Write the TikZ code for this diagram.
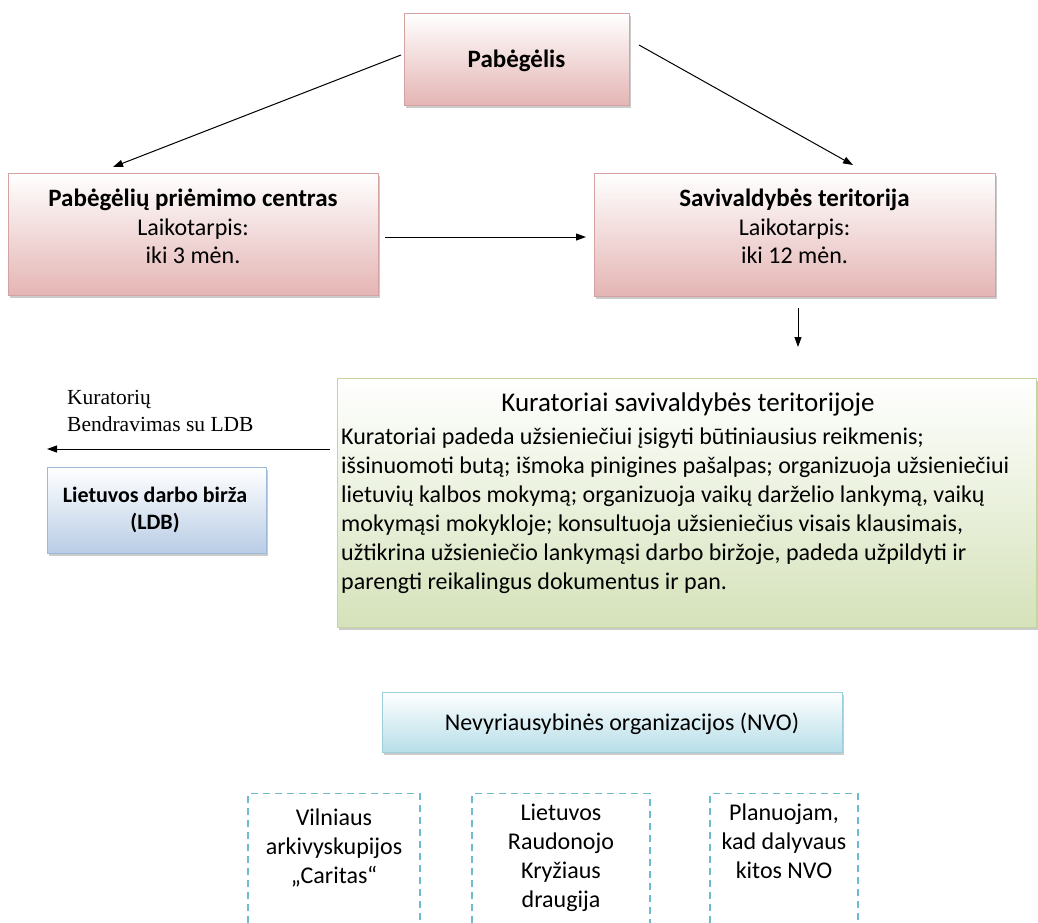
\documentclass[tikz,border=0pt]{standalone}
\usepackage{fontspec}
\setmainfont{Carlito}
\newfontfamily\timesfont{Liberation Serif}
\usetikzlibrary{arrows.meta,shadows}
\definecolor{pinkD}{HTML}{D3A2A1}
\definecolor{pinkB}{HTML}{E4B5B4}
\definecolor{greenD}{HTML}{C4D69E}
\definecolor{greenB}{HTML}{D5E2BA}
\definecolor{ldbD}{HTML}{9DB8D8}
\definecolor{ldbB}{HTML}{B9CDE5}
\definecolor{nvoD}{HTML}{9CCFDD}
\definecolor{nvoB}{HTML}{B7DEE8}
\definecolor{dashC}{HTML}{6DBBCF}
\tikzset{
  shbox/.style={line width=0.9pt, inner sep=0pt, align=center,
    drop shadow={shadow xshift=2pt,shadow yshift=-2.5pt,fill=black!40}},
  pinkbox/.style={shbox, draw=pinkD, top color=white, bottom color=pinkB},
  greenbox/.style={shbox, draw=greenD, top color=white, bottom color=greenB},
  ldbbox/.style={shbox, draw=ldbD, top color=white, bottom color=ldbB},
  nvobox/.style={shbox, draw=nvoD, top color=white, bottom color=nvoB},
  dbox/.style={draw=dashC, line width=1.3pt, dash pattern=on 7pt off 5pt, inner sep=0pt},
  arr/.style={line width=1pt, -{Triangle[length=10pt,width=7pt]}},
  txt/.style={inner sep=0pt, anchor=base},
}
\newcommand\ctab[1]{\begin{tabular}[t]{@{}c@{}}#1\end{tabular}}
\newcommand\ltab[1]{\begin{tabular}[t]{@{}l@{}}#1\end{tabular}}
\begin{document}
\begin{tikzpicture}[x=1pt,y=-1pt]
\useasboundingbox (0,0) rectangle (1038,922);
\clip (0,0) rectangle (1038,922);
\fill[white] (0,0) rectangle (1038,922);

% pink boxes
\node[pinkbox, minimum width=225pt, minimum height=92pt] (pab) at (516.5,59) {};
\node[txt, font=\fontsize{25}{30}\selectfont\bfseries] (pabT) at (516.5,67) {Pabėgėlis};
\node[pinkbox, minimum width=370pt, minimum height=122pt] (prc) at (193,234) {};
\node[txt, font=\fontsize{24}{28.5}\selectfont] (prcT) at (193,206.5)
  {\ctab{{\fontsize{25}{28.5}\selectfont\bfseries Pabėgėlių priėmimo centras}\\Laikotarpis:\\iki 3 mėn.}};
\node[pinkbox, minimum width=401pt, minimum height=123pt] (sav) at (794.5,234.5) {};
\node[txt, font=\fontsize{24}{28.5}\selectfont] (savT) at (794.5,206.5)
  {\ctab{{\fontsize{25}{28.5}\selectfont\bfseries Savivaldybės teritorija}\\Laikotarpis:\\iki 12 mėn.}};

% green box
\node[greenbox, minimum width=699pt, minimum height=249pt] (kur) at (686.5,502.5) {};
\node[txt, font=\fontsize{27}{32}\selectfont] (kurT) at (688,411) {Kuratoriai savivaldybės teritorijoje};
\node[txt, anchor=base west, font=\fontsize{24}{29}\selectfont] (kurB) at (341,444)
 {\ltab{Kuratoriai padeda užsieniečiui įsigyti būtiniausius reikmenis;\\
  išsinuomoti butą; išmoka pinigines pašalpas; organizuoja užsieniečiui\\
  lietuvių kalbos mokymą; organizuoja vaikų darželio lankymą, vaikų\\
  mokymąsi mokykloje; konsultuoja užsieniečius visais klausimais,\\
  užtikrina užsieniečio lankymąsi darbo biržoje, padeda užpildyti ir\\
  parengti reikalingus dokumentus ir pan.}};

% LDB
\node[ldbbox, minimum width=219pt, minimum height=86pt] (ldb) at (156.5,510) {};
\node[txt, font=\fontsize{22}{27}\selectfont\bfseries] (ldbT) at (155,502) {\ctab{Lietuvos darbo birža\\(LDB)}};
\node[txt, anchor=base west, font=\timesfont\fontsize{21.5}{27}\selectfont] (lab) at (67,404)
 {\ltab{Kuratorių\\Bendravimas su LDB}};

% NVO
\node[nvobox, minimum width=460pt, minimum height=60pt] (nvo) at (612,722) {};
\node[txt, font=\fontsize{24}{29}\selectfont] (nvoT) at (622,730) {Nevyriausybinės organizacijos (NVO)};
\node[dbox, minimum width=172pt, minimum height=170pt, anchor=north] (d1) at (334,793) {};
\node[dbox, minimum width=178pt, minimum height=170pt, anchor=north] (d2) at (561,793) {};
\node[dbox, minimum width=148pt, minimum height=170pt, anchor=north] (d3) at (784,793) {};
\node[txt, font=\fontsize{24}{29}\selectfont] (d1t) at (334,825) {\ctab{Vilniaus\\arkivyskupijos\\„Caritas“}};
\node[txt, font=\fontsize{24}{29}\selectfont] (d2t) at (561,820) {\ctab{Lietuvos\\Raudonojo\\Kryžiaus\\draugija}};
\node[txt, font=\fontsize{24}{29}\selectfont] (d3t) at (784,820) {\ctab{Planuojam,\\kad dalyvaus\\kitos NVO}};

% arrows
\coordinate (a1s) at (401,55);  \coordinate (a1e) at (113,167);
\coordinate (a2s) at (639,45);  \coordinate (a2e) at (853,165);
\coordinate (a4s) at (385,237); \coordinate (a4e) at (586,237);
\coordinate (a5s) at (798,308); \coordinate (a5e) at (798,347);
\coordinate (a3s) at (330,449); \coordinate (a3e) at (47,449);
\draw[arr] (a1s) -- (a1e);
\draw[arr] (a2s) -- (a2e);
\draw[arr] (a4s) -- (a4e);
\draw[arr] (a5s) -- (a5e);
\draw[arr] (a3s) -- (a3e);
\end{tikzpicture}
\end{document}
